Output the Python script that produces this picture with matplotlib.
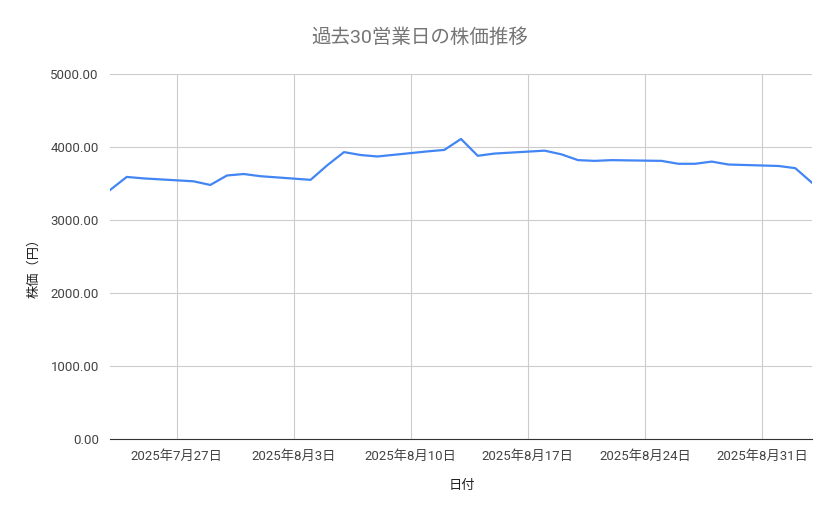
import matplotlib
matplotlib.use("Agg")
import matplotlib.pyplot as plt
import pandas as pd

plt.rcParams['font.family'] = ['Roboto', 'Noto Sans CJK JP', 'DejaVu Sans']

dates = ["2025-07-23","2025-07-24","2025-07-25","2025-07-28","2025-07-29","2025-07-30","2025-07-31","2025-08-01",
         "2025-08-04","2025-08-05","2025-08-06","2025-08-07","2025-08-08","2025-08-11","2025-08-12","2025-08-13",
         "2025-08-14","2025-08-15","2025-08-18","2025-08-19","2025-08-20","2025-08-21","2025-08-22","2025-08-25",
         "2025-08-26","2025-08-27","2025-08-28","2025-08-29","2025-09-01","2025-09-02","2025-09-03"]
prices = [3410,3590,3570,3530,3480,3610,3630,3600,3550,3750,3930,3890,3870,3940,3960,4110,
          3880,3910,3950,3900,3820,3810,3820,3810,3770,3770,3800,3760,3740,3710,3510]
tick_dates = ["2025-07-27","2025-08-03","2025-08-10","2025-08-17","2025-08-24","2025-08-31"]
tick_labels = ["2025年7月27日","2025年8月3日","2025年8月10日","2025年8月17日","2025年8月24日","2025年8月31日"]
yticks = [0,1000,2000,3000,4000,5000]

x = pd.to_datetime(dates)
fig = plt.figure(figsize=(8.39,5.19), dpi=100)
ax = fig.add_axes([110/839, 1-439/519, (812-110)/839, (439-74)/519])
ax.plot(x, prices, color='#4285f4', lw=1.6)
ax.set_xlim(x[0], x[-1])
ax.set_ylim(0, 5000)
ax.set_xticks(pd.to_datetime(tick_dates))
ax.set_xticklabels(tick_labels)
ax.set_yticks(yticks)
ax.set_yticklabels([f"{v:.2f}" for v in yticks])
ax.grid(True, color='#cccccc', lw=0.8)
ax.set_axisbelow(True)
for s in ['top','right','left']:
    ax.spines[s].set_visible(False)
ax.spines['bottom'].set_color('#333333')
ax.tick_params(length=0, labelsize=9.5, colors='#444444', pad=8)
fig.text(462/839, 1-486/519, "日付", ha='center', va='center', fontsize=9.5, color='#222222')
fig.text(34/839, 1-265/519, "株価（円）", ha='center', va='center', rotation=90, fontsize=9.5, color='#222222')
fig.text(420/839, 1-38/519, "過去30営業日の株価推移", ha='center', va='center', fontsize=14, color='#757575')
fig.savefig("out.png", dpi=100)
